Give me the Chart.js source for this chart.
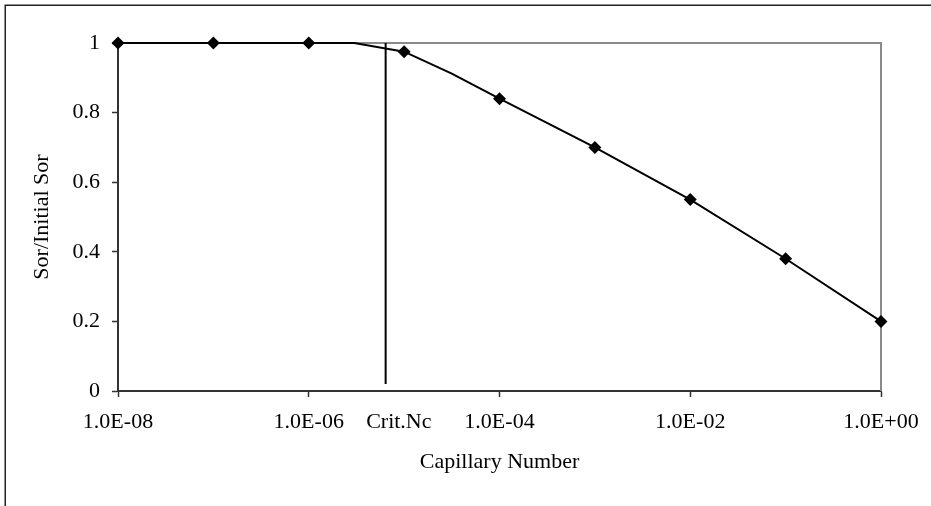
<!DOCTYPE html>
<html>
<head>
<meta charset="utf-8">
<script src="https://cdn.jsdelivr.net/npm/chart.js@4.4.1/dist/chart.umd.min.js"></script>
<style>
html,body{margin:0;padding:0;background:#fff;}
canvas{display:block;}
</style>
</head>
<body>
<canvas id="c" width="931" height="506"></canvas>
<script>
// ---- data ----
const curveX = [1e-8, 1e-7, 1e-6, 3e-6, 1e-5, 3.16e-5, 1e-4, 1e-3, 1e-2, 1e-1, 1];
const curveY = [1, 1, 1, 1, 0.975, 0.912, 0.84, 0.70, 0.55, 0.38, 0.20];
const markerX = [1e-8, 1e-7, 1e-6, 1e-5, 1e-4, 1e-3, 1e-2, 1e-1, 1];
const markerY = [1, 1, 1, 0.975, 0.84, 0.70, 0.55, 0.38, 0.20];
const critNc = 6.4e-6;
const critLineY = [0.02, 1];
const xTickValues = [1e-8, 1e-6, 8.8e-6, 1e-4, 1e-2, 1];
const xTickLabels = ['1.0E-08', '1.0E-06', 'Crit.Nc', '1.0E-04', '1.0E-02', '1.0E+00'];
const yTickValues = [0, 0.2, 0.4, 0.6, 0.8, 1];
const yTickLabels = ['0', '0.2', '0.4', '0.6', '0.8', '1'];

Chart.defaults.font.family = '"Liberation Serif", "Times New Roman", serif';
Chart.defaults.font.size = 22;
Chart.defaults.color = '#000';

const frames = {
  id: 'frames',
  beforeDraw(chart) {
    const ctx = chart.ctx;
    ctx.save();
    ctx.strokeStyle = '#222';
    ctx.lineWidth = 1.5;
    ctx.beginPath();
    ctx.moveTo(5.25, 506);
    ctx.lineTo(5.25, 5.25);
    ctx.lineTo(931, 5.25);
    ctx.stroke();
    ctx.restore();
  },
  beforeDatasetsDraw(chart) {
    const a = chart.chartArea, ctx = chart.ctx;
    ctx.save();
    ctx.strokeStyle = '#8a8a8a';
    ctx.lineWidth = 2;
    ctx.beginPath();
    ctx.moveTo(a.left, a.top);
    ctx.lineTo(a.right, a.top);
    ctx.lineTo(a.right, a.bottom);
    ctx.stroke();
    ctx.restore();
  }
};

new Chart(document.getElementById('c'), {
  type: 'line',
  data: {
    datasets: [
      {
        data: curveX.map((x, i) => ({x, y: curveY[i]})),
        borderColor: '#000', borderWidth: 2, pointRadius: 0, tension: 0, clip: false, order: 2
      },
      {
        data: markerX.map((x, i) => ({x, y: markerY[i]})),
        showLine: false, pointStyle: 'rectRot', pointRadius: 6.5,
        backgroundColor: '#000', borderColor: '#000', borderWidth: 0, clip: false, order: 1
      },
      {
        data: critLineY.map(y => ({x: critNc, y})),
        borderColor: '#000', borderWidth: 2, pointRadius: 0, clip: false, order: 3
      }
    ]
  },
  options: {
    responsive: false,
    animation: false,
    devicePixelRatio: 1,
    layout: {padding: {left: 0, top: 43, right: 50, bottom: 0}},
    plugins: {legend: {display: false}, tooltip: {enabled: false}},
    scales: {
      x: {
        type: 'logarithmic', min: 1e-8, max: 1,
        afterBuildTicks(s) { s.ticks = xTickValues.map(v => ({value: v})); },
        afterFit(s) { s.height = 115; },
        ticks: {
          autoSkip: false, maxRotation: 0, minRotation: 0, padding: 12,
          callback: (v, i) => xTickLabels[i]
        },
        grid: {
          drawOnChartArea: false, tickLength: 6,
          tickColor: ctx => (ctx.tick && xTickLabels[ctx.index] === 'Crit.Nc') ? 'rgba(0,0,0,0)' : '#333',
          tickWidth: 1.5
        },
        border: {display: true, color: '#333', width: 2},
        title: {display: true, text: 'Capillary Number', font: {size: 22}, padding: {top: 0, bottom: 31}}
      },
      y: {
        type: 'linear', min: 0, max: 1,
        afterBuildTicks(s) { s.ticks = yTickValues.map(v => ({value: v})); },
        afterFit(s) { s.width = 118; },
        ticks: {padding: 12, callback: (v, i) => yTickLabels[i]},
        grid: {drawOnChartArea: false, tickLength: 6, tickColor: '#333', tickWidth: 1.5},
        border: {display: true, color: '#333', width: 2},
        title: {display: true, text: 'Sor/Initial Sor', font: {size: 22}, padding: {top: 29, bottom: 0}}
      }
    }
  },
  plugins: [frames]
});
</script>
</body>
</html>
